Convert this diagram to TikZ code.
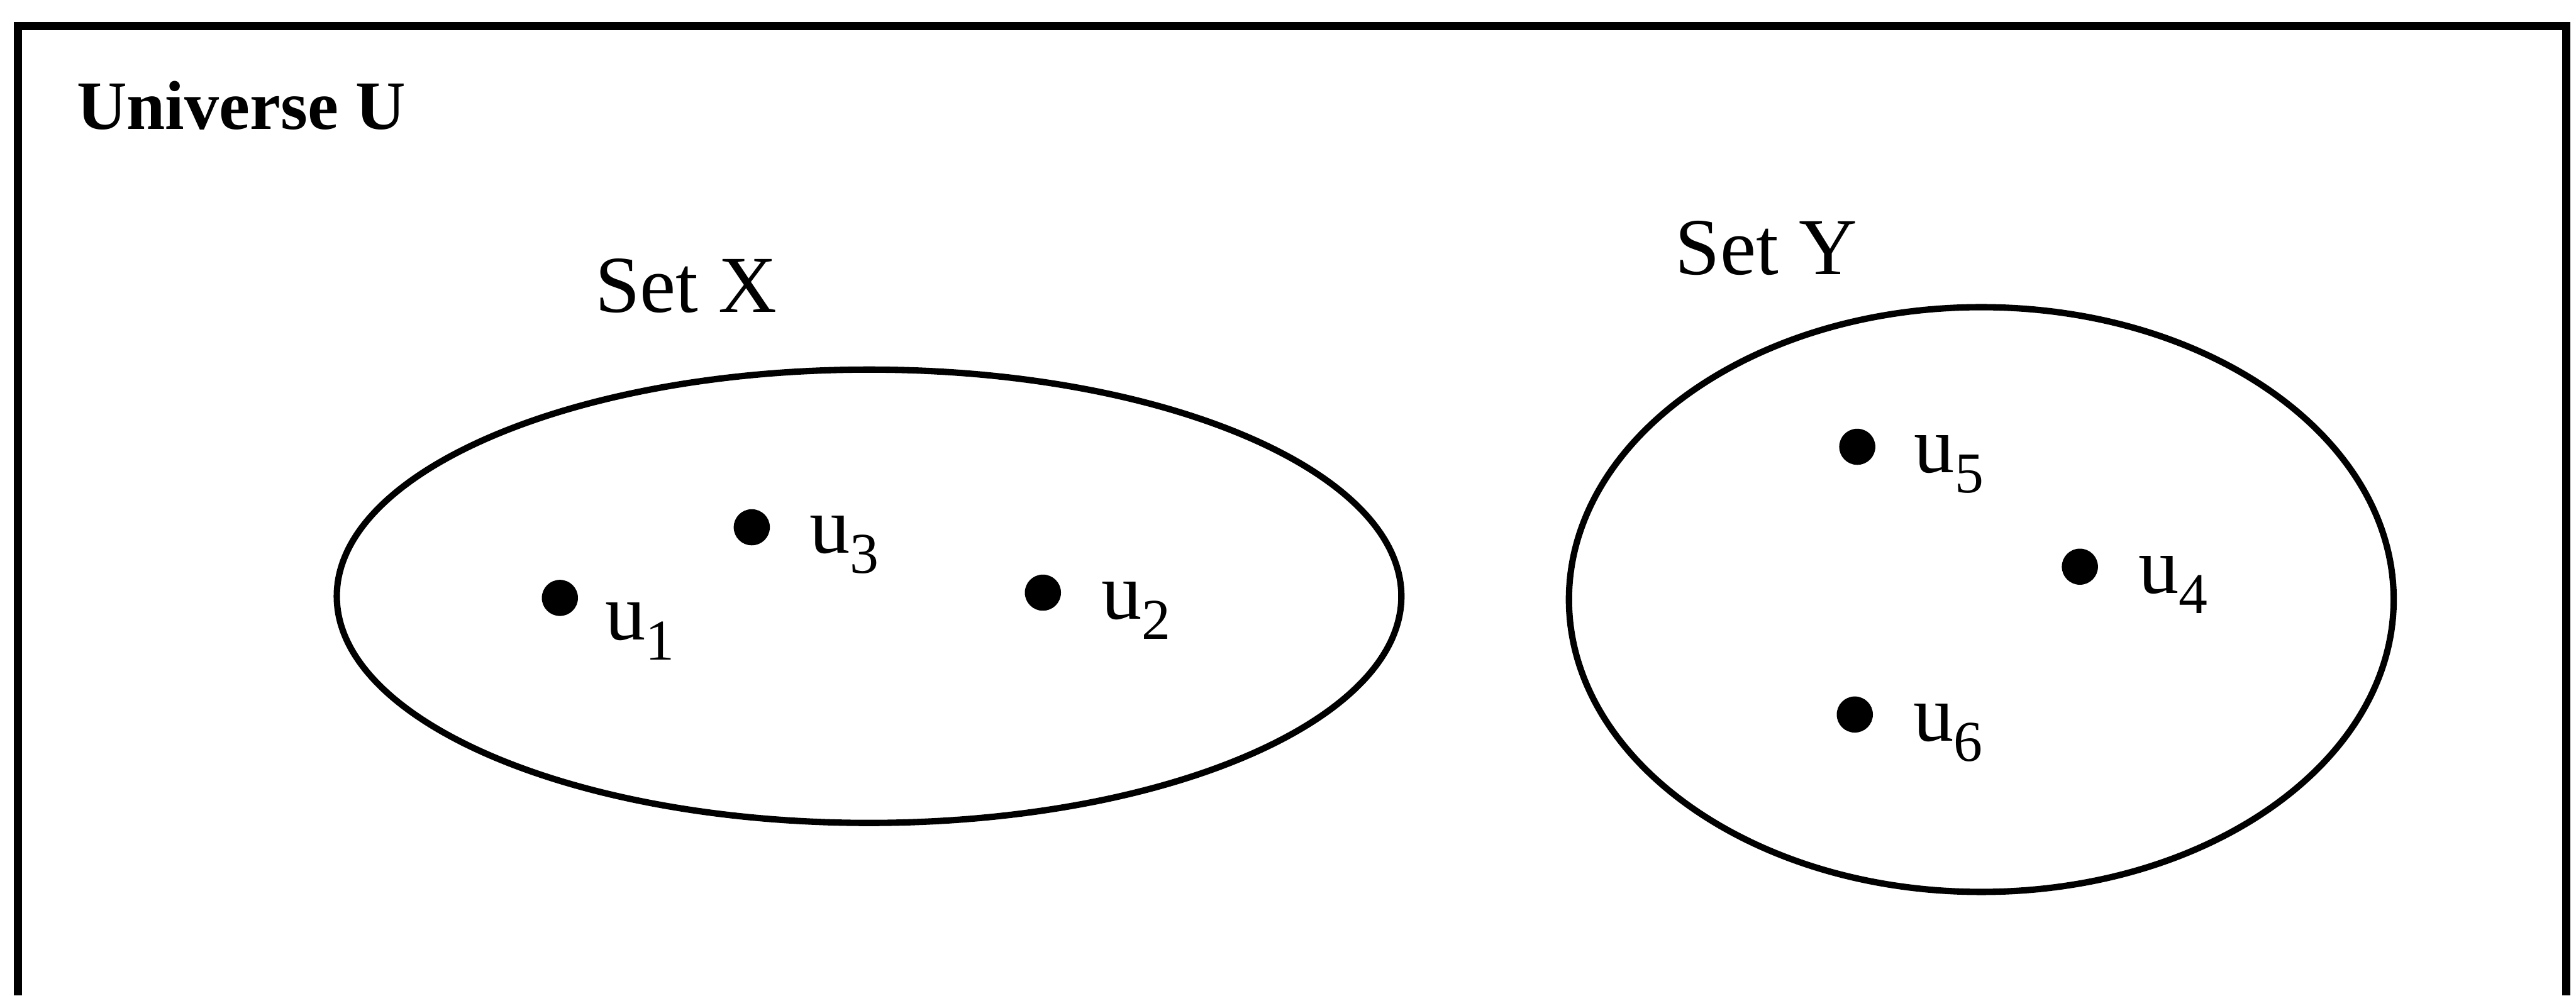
\documentclass[tikz,border=0pt]{standalone}
\usepackage{fontspec}
\setmainfont{Liberation Serif}
\usetikzlibrary{shapes.geometric, positioning}
\newcommand{\elem}[1]{u\raisebox{-3.5pt}{\fontsize{10}{10}\selectfont #1}}

\begin{document}
\begin{tikzpicture}[
    font=\fontsize{14}{16}\selectfont,
    frame/.style={line width=1.4pt},
    setshape/.style={draw, ellipse, line width=1.1pt, inner sep=0pt},
    member/.style={circle, fill, inner sep=0pt, minimum size=2.2mm},
    lab/.style={inner sep=0pt, anchor=base west},
    title/.style={inner sep=0pt, anchor=base},
]
\useasboundingbox (0,0) rectangle (15.68,-6.06);
\draw[frame] (0.11,-6.06) -- (0.11,-0.16) -- (15.62,-0.16) -- (15.62,-6.06);
\node[inner sep=0pt, anchor=base west, font=\fontsize{12}{14}\selectfont\bfseries] (uni) at (0.46,-0.787) {Universe U};
\node[setshape, minimum width=6.48cm, minimum height=2.76cm] (setX) at (5.29,-3.63) {};
\node[setshape, minimum width=5.02cm, minimum height=3.56cm] (setY) at (12.06,-3.65) {};
\node[title] (tX) at (4.175,-1.90) {Set X};
\node[title] (tY) at (10.75,-1.67) {Set Y};
% members of X
\node[member] (u1) at (3.408,-3.64) {};
\node[member] (u3) at (4.576,-3.21) {};
\node[member] (u2) at (6.348,-3.608) {};
% members of Y
\node[member] (u5) at (11.305,-2.72) {};
\node[member] (u4) at (12.66,-3.45) {};
\node[member] (u6) at (11.29,-4.35) {};
\node[lab] (l1) at ([xshift=2.7mm, yshift=-2.55mm]u1.center) {\elem{1}};
\node[lab] (l3) at ([xshift=3.45mm, yshift=-1.55mm]u3.center) {\elem{3}};
\node[lab] (l2) at ([xshift=3.5mm, yshift=-1.6mm]u2.center) {\elem{2}};
\node[lab] (l5) at ([xshift=3.4mm, yshift=-1.56mm]u5.center) {\elem{5}};
\node[lab] (l4) at ([xshift=3.5mm, yshift=-1.6mm]u4.center) {\elem{4}};
\node[lab] (l6) at ([xshift=3.5mm, yshift=-1.6mm]u6.center) {\elem{6}};
\end{tikzpicture}
\end{document}
